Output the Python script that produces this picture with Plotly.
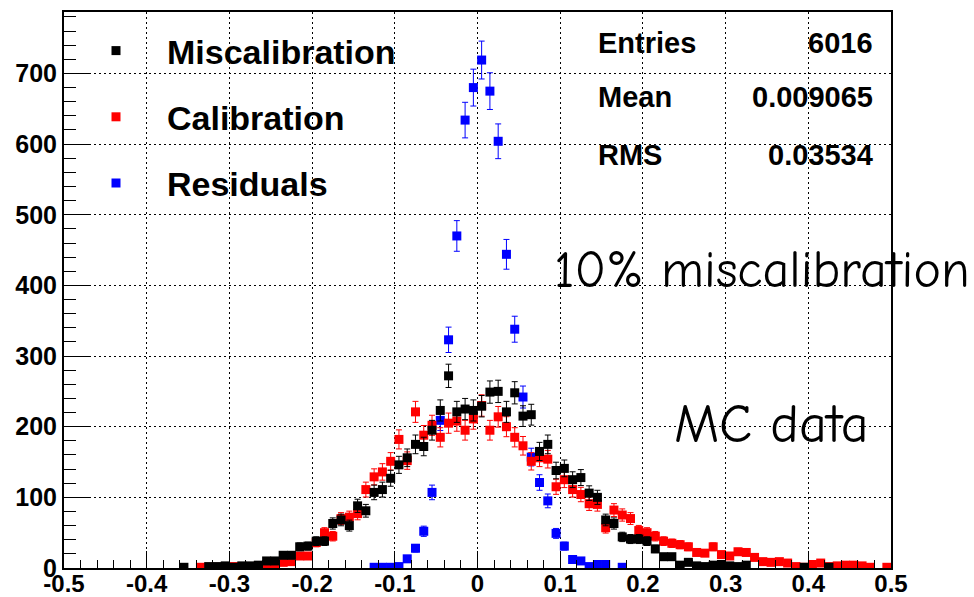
import numpy as np
import plotly.graph_objects as go

# ---------------- data ----------------
bin_centers = [round(-0.495 + 0.01 * i, 3) for i in range(100)]

# Miscalibration (black), starting at bin center -0.355
miscal_start = -0.355
miscal_counts = [1, 0, 0, 2, 2, 3, 1, 3, 3, 4, 10, 10, 18, 18, 30, 31, 38, 38, 63, 68,
                 60, 88, 81, 107, 111, 127, 146, 156, 175, 172, 195, 223, 272, 221, 225, 223,
                 229, 249, 250, 221, 248, 215, 217, 165, 175, 138, 141, 125, 128, 106, 100,
                 68, 63, 44, 41, 41, 38, 27, 16, 16, 4, 8, 3, 2, 4, 5, 3, 2, 4,
                 0, 0, 0, 0, 0, 0, 1, 0, 0, 1]

# Calibration (red), starting at bin center -0.335
calib_start = -0.335
calib_counts = [1, 1, 1, 1, 2, 1, 2, 3, 3, 4, 8, 9, 17, 17, 36, 50, 45, 70, 72, 77,
                111, 129, 136, 151, 182, 152, 221, 188, 202, 185, 205, 208, 195, 211,
                230, 195, 214, 200, 185, 173, 151, 156, 154, 115, 125, 111, 104, 91, 90,
                57, 82, 75, 70, 53, 50, 45, 38, 35, 33, 30, 22, 21, 30, 19, 17, 23, 22,
                15, 9, 8, 9, 7, 2, 1, 5, 7, 2, 3, 4, 4, 3, 1, 0, 1]

# Residuals (blue), starting at bin center -0.125
resid_start = -0.125
resid_counts = [1, 1, 1, 2, 13, 28, 52, 107, 209, 323, 470, 634, 680, 719, 675, 604,
                444, 338, 242, 157, 121, 95, 49, 31, 12, 10, 2, 5, 5, 0, 1]

series_names = ["Miscalibration", "Calibration", "Residuals"]
stat_labels = ["Entries", "Mean", "RMS"]
stat_values = ["6016", "0.009065", "0.03534"]

x_tickvals = [-0.5, -0.4, -0.3, -0.2, -0.1, 0, 0.1, 0.2, 0.3, 0.4, 0.5]
x_ticktext = ["-0.5", "-0.4", "-0.3", "-0.2", "-0.1", "0", "0.1", "0.2", "0.3", "0.4", "0.5"]
y_tickvals = [0, 100, 200, 300, 400, 500, 600, 700]


def series(start, counts):
    i0 = bin_centers.index(start)
    xs, ys = [], []
    for k, c in enumerate(counts):
        if c > 0:
            xs.append(bin_centers[i0 + k])
            ys.append(c)
    return xs, ys


# ---------------- layout geometry ----------------
W, H = 974, 597
L, R, T, B = 64, 83, 12, 29
PW, PH = W - L - R, H - T - B


def px(xp):
    return (xp - L) / PW


def py(yp):
    return (H - B - yp) / PH


FONT = "Liberation Sans, Arial, Helvetica, sans-serif"

fig = go.Figure()

specs = [
    (resid_start, resid_counts, "#0000ff", series_names[2], 3),
    (calib_start, calib_counts, "#ff0000", series_names[1], 2),
    (miscal_start, miscal_counts, "#000000", series_names[0], 1),
]
for start, counts, color, name, rank in specs:
    xs, ys = series(start, counts)
    fig.add_trace(go.Scatter(
        x=xs, y=ys, mode="markers", name=name,
        legendgroup=name, legendrank=rank,
        marker=dict(symbol="square", size=9, color=color, line=dict(width=0)),
        error_y=dict(type="data", array=list(np.sqrt(ys)), color=color,
                     thickness=1, width=3),
    ))

fig.update_layout(
    width=W, height=H,
    margin=dict(l=L, r=R, t=T, b=B, autoexpand=False),
    paper_bgcolor="white", plot_bgcolor="white",
    font=dict(family=FONT, color="black"),
    showlegend=True,
    legend=dict(
        x=px(65), y=py(22), xanchor="left", yanchor="top",
        bgcolor="rgba(0,0,0,0)", borderwidth=0,
        font=dict(family=FONT, size=34, color="black", weight="bold"),
        itemwidth=92, tracegroupgap=19,
    ),
    xaxis=dict(
        range=[-0.5, 0.5], tickvals=x_tickvals, ticktext=x_ticktext,
        automargin=False,
        ticks="inside", ticklen=17, tickwidth=1, tickcolor="black",
        showline=True, linewidth=2, linecolor="black", mirror=True,
        showgrid=True, gridcolor="black", gridwidth=1, griddash="2px,3px",
        zeroline=False,
        ticklabelstandoff=-7,
        tickfont=dict(family=FONT, size=24, color="black", weight="bold"),
        minor=dict(dtick=0.02, ticks="inside", ticklen=8, tickcolor="black",
                   tickwidth=1, showgrid=False),
    ),
    yaxis=dict(
        range=[0, 787], tickvals=y_tickvals,
        automargin=False,
        ticks="inside", ticklen=25, tickwidth=1, tickcolor="black",
        showline=True, linewidth=2, linecolor="black", mirror=True,
        showgrid=True, gridcolor="black", gridwidth=1, griddash="2px,3px",
        zeroline=False,
        tickfont=dict(family=FONT, size=25, color="black", weight="bold"),
        minor=dict(dtick=20, ticks="inside", ticklen=12, tickcolor="black",
                   tickwidth=1, showgrid=False),
    ),
)

# stats box text
stat_y = [43, 97, 155]
for lab, val, yy in zip(stat_labels, stat_values, stat_y):
    fig.add_annotation(x=px(596), y=py(yy), xref="paper", yref="paper",
                       text=lab, showarrow=False, xanchor="left", yanchor="middle",
                       font=dict(family=FONT, size=29, color="black", weight="bold"))
    fig.add_annotation(x=px(875), y=py(yy), xref="paper", yref="paper",
                       text=val, showarrow=False, xanchor="right", yanchor="middle",
                       font=dict(family=FONT, size=29, color="black", weight="bold"))

HAND = "Comic Sans MS, Comic Neue, Noto Sans, sans-serif"
fig.add_annotation(x=px(552), y=py(270), xref="paper", yref="paper",
                   text="10% miscalibration", showarrow=False,
                   xanchor="left", yanchor="middle",
                   font=dict(family=HAND, size=52, color="black"))
fig.add_annotation(x=px(672), y=py(424), xref="paper", yref="paper",
                   text="MC data", showarrow=False,
                   xanchor="left", yanchor="middle",
                   font=dict(family=HAND, size=54, color="black"))

fig.write_html(
    "out.html",
    config={"displayModeBar": False},
    post_script="document.body.style.margin='0';document.body.style.overflow='hidden';",
)
